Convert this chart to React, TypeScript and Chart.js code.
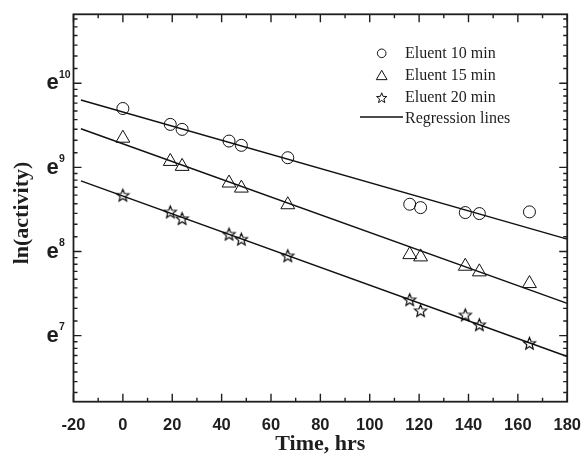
import React, { useEffect, useRef } from 'react';
import { Chart, registerables } from 'chart.js';

Chart.register(...registerables);

// ---- data ----
const hours = [0, 19.2, 24, 43, 48, 66.8, 116.2, 120.6, 138.7, 144.4, 164.7];
const lnEluent10 = [9.70, 9.511, 9.452, 9.313, 9.262, 9.115, 8.562, 8.522, 8.463, 8.451, 8.471];
const lnEluent15 = [9.347, 9.071, 9.012, 8.814, 8.754, 8.556, 7.963, 7.936, 7.825, 7.758, 7.619];
const lnEluent20 = [8.669, 8.471, 8.391, 8.206, 8.147, 7.949, 7.427, 7.297, 7.246, 7.130, 6.909];

const regressionHours = [-17, 180];
const lnReg10 = [9.80, 8.147];
const lnReg15 = [9.46, 7.383];
const lnReg20 = [8.84, 6.751];

const seriesLabels = ['Eluent 10 min', 'Eluent 15 min', 'Eluent 20 min'];
const regressionLabel = 'Regression lines';

const xMin = -20;
const xMax = 180;
const xStep = 20;
const xMinorTicks = [-10, 10, 30, 50, 70, 90, 110, 130, 150, 170];
const yMin = 500;
const yMax = 50000;
const yExponents = [6, 7, 8, 9, 10];
const yLabelExponents = [7, 8, 9, 10];
const xTitle = 'Time, hrs';
const yTitle = 'ln(activity)';

const INK = '#1e1e1e';
const SERIF_BOLD = 'bold 22px "Liberation Serif", "Times New Roman", serif';

function makeStar(outer: number, inner: number, lw: number): HTMLCanvasElement {
  const size = Math.ceil(outer * 2 + 4);
  const c = document.createElement('canvas');
  c.width = size;
  c.height = size;
  const g = c.getContext('2d')!;
  const cx = size / 2;
  const cy = size / 2 + 0.5;
  g.beginPath();
  for (let i = 0; i < 10; i++) {
    const r = i % 2 === 0 ? outer : inner;
    const a = -Math.PI / 2 + (i * Math.PI) / 5;
    const px = cx + r * Math.cos(a);
    const py = cy + r * Math.sin(a);
    if (i === 0) g.moveTo(px, py);
    else g.lineTo(px, py);
  }
  g.closePath();
  g.lineWidth = lw;
  g.strokeStyle = '#000000';
  g.lineJoin = 'miter';
  g.stroke();
  return c;
}

const toPoints = (xs: number[], lns: number[]) => xs.map((x, i) => ({ x, y: Math.exp(lns[i]) }));

const framePlugin = {
  id: 'framePlugin',
  afterDraw(chart: any) {
    const { ctx, chartArea } = chart;
    const { left, right, top, bottom } = chartArea;
    const xs = chart.scales.x;
    const ys = chart.scales.y;
    ctx.save();
    ctx.strokeStyle = INK;
    // ticks (inward, mirrored)
    ctx.lineWidth = 1.4;
    const major = 8;
    const minor = 4;
    const vTick = (px: number, len: number) => {
      ctx.beginPath();
      ctx.moveTo(px, bottom);
      ctx.lineTo(px, bottom - len);
      ctx.moveTo(px, top);
      ctx.lineTo(px, top + len);
      ctx.stroke();
    };
    const hTick = (py: number, len: number) => {
      ctx.beginPath();
      ctx.moveTo(left, py);
      ctx.lineTo(left + len, py);
      ctx.moveTo(right, py);
      ctx.lineTo(right - len, py);
      ctx.stroke();
    };
    for (let v = xMin; v <= xMax; v += xStep) vTick(xs.getPixelForValue(v), major);
    xMinorTicks.forEach((v) => vTick(xs.getPixelForValue(v), minor));
    yExponents.forEach((n) => {
      const lo = Math.exp(n);
      const hi = Math.exp(n + 1);
      if (lo >= yMin && lo <= yMax) hTick(ys.getPixelForValue(lo), major);
      for (let k = 1; k <= 8; k++) {
        const v = lo + (k * (hi - lo)) / 9;
        if (v >= yMin && v <= yMax) hTick(ys.getPixelForValue(v), minor);
      }
    });
    // frame
    ctx.lineWidth = 1.8;
    ctx.strokeRect(left, top, right - left, bottom - top);

    // y labels e^n
    ctx.fillStyle = INK;
    ctx.textAlign = 'left';
    ctx.textBaseline = 'alphabetic';
    yLabelExponents.forEach((n) => {
      const py = ys.getPixelForValue(Math.exp(n));
      ctx.font = 'bold 22px "Liberation Sans", Arial, sans-serif';
      const w = ctx.measureText('e').width;
      ctx.fillText('e', 46.4, py + 6.2);
      ctx.font = 'bold 10.5px "Liberation Sans", Arial, sans-serif';
      ctx.fillText(String(n), 46.4 + w + 0.4, py - 5.4);
    });

    // y title
    ctx.save();
    ctx.font = SERIF_BOLD;
    ctx.textAlign = 'center';
    ctx.textBaseline = 'alphabetic';
    ctx.translate(28.3, 213);
    ctx.rotate(-Math.PI / 2);
    ctx.fillText(yTitle, 0, 0);
    ctx.restore();

    // legend
    const sx = 381.7;
    const tx = 405;
    const baselines = [58.3, 80, 101.7, 123.3];
    const centers = [53.3, 75, 97.7];
    ctx.lineWidth = 1;
    ctx.strokeStyle = '#111111';
    ctx.beginPath();
    ctx.arc(sx, centers[0], 4.3, 0, Math.PI * 2);
    ctx.stroke();
    const tr = 6.2;
    const tcy = centers[1] + tr / 4;
    ctx.beginPath();
    for (let i = 0; i < 3; i++) {
      const a = (i * 2 * Math.PI) / 3;
      const px = sx + Math.sin(a) * tr;
      const py = tcy - Math.cos(a) * tr;
      if (i === 0) ctx.moveTo(px, py);
      else ctx.lineTo(px, py);
    }
    ctx.closePath();
    ctx.stroke();
    ctx.beginPath();
    for (let i = 0; i < 10; i++) {
      const r = i % 2 === 0 ? 5.4 : 2.3;
      const a = -Math.PI / 2 + (i * Math.PI) / 5;
      const px = sx + r * Math.cos(a);
      const py = centers[2] + 0.5 + r * Math.sin(a);
      if (i === 0) ctx.moveTo(px, py);
      else ctx.lineTo(px, py);
    }
    ctx.closePath();
    ctx.stroke();
    ctx.lineWidth = 1.5;
    ctx.beginPath();
    ctx.moveTo(360, 117);
    ctx.lineTo(403, 117);
    ctx.stroke();

    ctx.font = '16px "Liberation Serif", "Times New Roman", serif';
    const labels = [...seriesLabels, regressionLabel];
    labels.forEach((t, i) => ctx.fillText(t, tx, baselines[i]));
    ctx.restore();
  },
};

export default function App() {
  const ref = useRef<HTMLCanvasElement | null>(null);

  useEffect(() => {
    if (!ref.current) return;
    const star = makeStar(6.4, 2.8, 1.15);
    const lineDs = (lns: number[]) => ({
      type: 'line' as const,
      label: regressionLabel,
      data: toPoints(regressionHours, lns),
      borderColor: '#111111',
      borderWidth: 1.5,
      pointRadius: 0,
      showLine: true,
      fill: false,
      tension: 0,
    });
    const chart = new Chart(ref.current, {
      type: 'scatter',
      data: {
        datasets: [
          {
            label: seriesLabels[0],
            data: toPoints(hours, lnEluent10),
            pointStyle: 'circle',
            pointRadius: 6,
            pointBorderWidth: 1,
            pointBorderColor: '#111111',
            pointBackgroundColor: 'rgba(0,0,0,0)',
          },
          {
            label: seriesLabels[1],
            data: toPoints(hours, lnEluent15),
            pointStyle: 'triangle',
            pointRadius: 8,
            pointBorderWidth: 1,
            pointBorderColor: '#111111',
            pointBackgroundColor: 'rgba(0,0,0,0)',
          },
          {
            label: seriesLabels[2],
            data: toPoints(hours, lnEluent20),
            pointStyle: star as any,
            pointRadius: 7,
            pointBorderWidth: 1,
            pointBorderColor: '#111111',
            pointBackgroundColor: 'rgba(0,0,0,0)',
          },
          lineDs(lnReg10) as any,
          lineDs(lnReg15) as any,
          lineDs(lnReg20) as any,
        ],
      },
      options: {
        animation: false,
        responsive: false,
        maintainAspectRatio: false,
        devicePixelRatio: 1,
        layout: { padding: { left: 0, top: 14.3, right: 15.5, bottom: 0 } },
        plugins: {
          legend: { display: false },
          tooltip: { enabled: false },
        },
        events: [],
        scales: {
          x: {
            type: 'linear',
            min: xMin,
            max: xMax,
            grid: { display: false },
            border: { display: false },
            ticks: {
              stepSize: xStep,
              autoSkip: false,
              maxRotation: 0,
              padding: 6,
              color: INK,
              font: { family: '"Liberation Sans", Arial, sans-serif', weight: 'bold', size: 16.5 },
            },
            title: {
              display: true,
              text: xTitle,
              color: INK,
              padding: { top: 0, bottom: 0.7 },
              font: { family: '"Liberation Serif", "Times New Roman", serif', weight: 'bold', size: 22, lineHeight: 1 },
            },
            afterFit: (s: any) => {
              s.height = 54.3;
            },
          },
          y: {
            type: 'logarithmic',
            min: yMin,
            max: yMax,
            grid: { display: false },
            border: { display: false },
            ticks: { display: false },
            title: { display: false, text: yTitle },
            afterFit: (s: any) => {
              s.width = 73.5;
            },
          },
        },
      } as any,
      plugins: [framePlugin],
    });
    return () => chart.destroy();
  }, []);

  return (
    <div style={{ position: 'fixed', left: 0, top: 0, width: 587, height: 456, background: '#ffffff' }}>
      <canvas ref={ref} width={587} height={456} style={{ display: 'block', width: 587, height: 456 }} />
    </div>
  );
}
